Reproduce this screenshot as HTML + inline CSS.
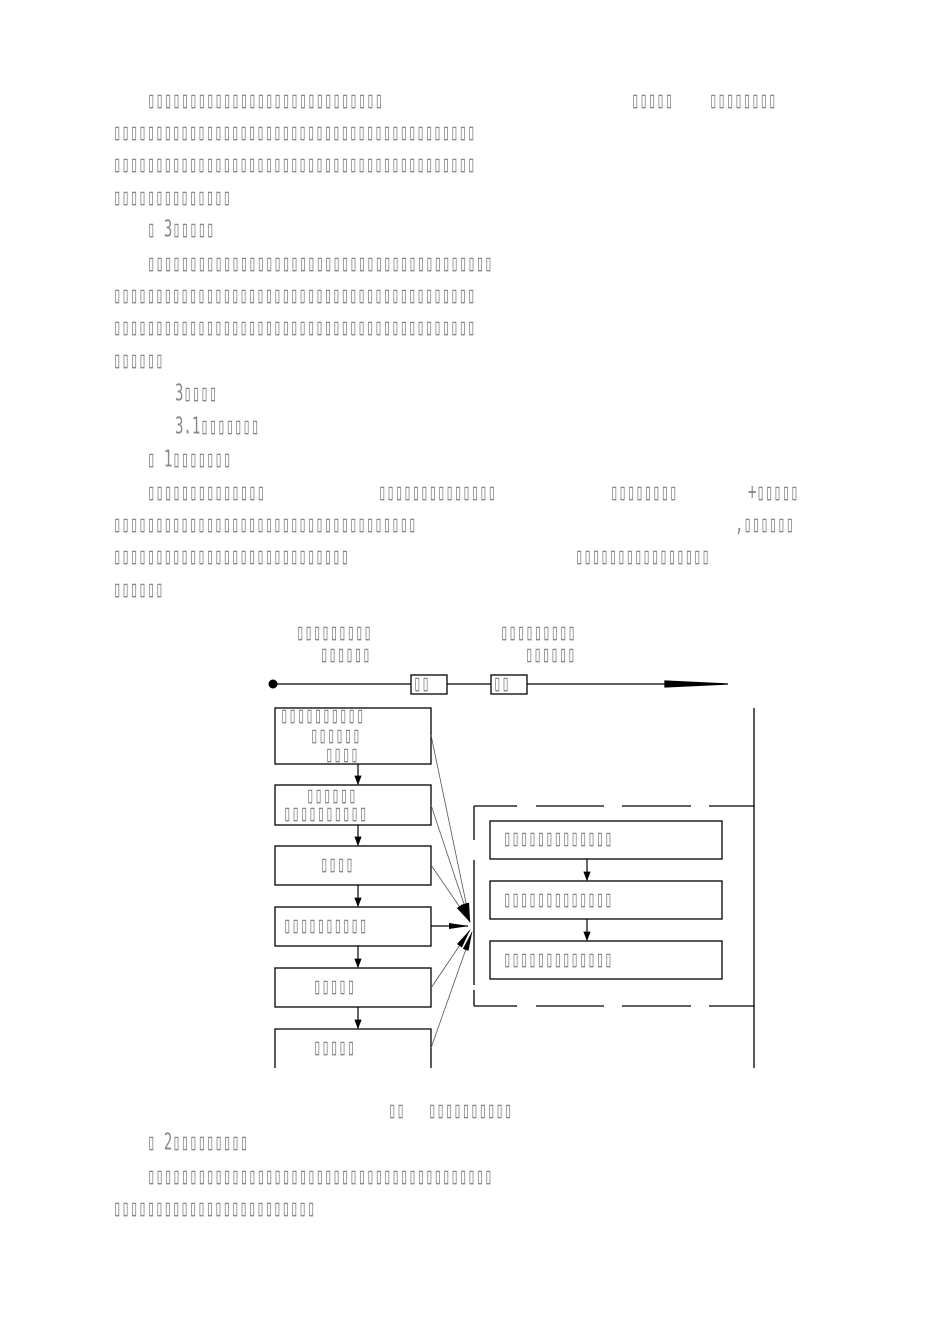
<!DOCTYPE html>
<html><head><meta charset="utf-8"><style>
body{margin:0;background:#fff;width:950px;height:1344px;position:relative;overflow:hidden}
.t{position:absolute;z-index:2;font-family:"DejaVu Sans Mono",monospace;font-size:14px;line-height:14px;color:#888;white-space:pre;transform:scale(1,1.65);transform-origin:0 50%}
svg{position:absolute;left:0;top:0;z-index:1}
</style></head><body>
<svg width="950" height="1344">
<defs><marker id="a" markerWidth="8" markerHeight="8" refX="7" refY="4" orient="auto"><path d="M0,1 L8,4 L0,7Z" fill="#000"/></marker>
<marker id="b" markerWidth="20" markerHeight="8" refX="19" refY="4" orient="auto" markerUnits="userSpaceOnUse"><path d="M0,1 L20,4 L0,7Z" fill="#000"/></marker></defs>
<g stroke="#000" fill="none" stroke-width="1.3">
<line x1="273" y1="684" x2="700" y2="684"/>
<path d="M665,681 L728,684 L665,687Z" fill="#000"/>
<rect x="411" y="675" width="36" height="19" fill="#fff"/>
<rect x="491" y="675" width="36" height="19" fill="#fff"/>
<rect x="275" y="708" width="156" height="56"/>
<rect x="275" y="785" width="156" height="40"/>
<rect x="275" y="846" width="156" height="39"/>
<rect x="275" y="907" width="156" height="39"/>
<rect x="275" y="968" width="156" height="39"/>
<path d="M275,1068 V1029 H431 V1068"/>
<line x1="754" y1="708" x2="754" y2="1068"/>
<rect x="490" y="821" width="232" height="38"/>
<rect x="490" y="881" width="232" height="38"/>
<rect x="490" y="941" width="232" height="38"/>
<path d="M474,806 H517 M536,806 H604 M622,806 H691 M709,806 H754 M474,1006 H517 M536,1006 H604 M622,1006 H691 M709,1006 H754 M474,806 V840 M474,860 V985 M474,990 V1006" />
</g>
<circle cx="273" cy="684" r="4.5" fill="#000"/>
<g stroke="#000" stroke-width="1.2" marker-end="url(#a)">
<line x1="358" y1="764" x2="358" y2="784"/><line x1="358" y1="825" x2="358" y2="845"/>
<line x1="358" y1="885" x2="358" y2="906"/><line x1="358" y1="946" x2="358" y2="967"/>
<line x1="358" y1="1007" x2="358" y2="1028"/>
<line x1="587" y1="859" x2="587" y2="880"/><line x1="587" y1="919" x2="587" y2="940"/>
</g>
<g stroke="#555" stroke-width="0.8" marker-end="url(#b)">
<line x1="431" y1="735" x2="470" y2="922"/>
<line x1="431" y1="805" x2="470" y2="922"/>
<line x1="431" y1="865" x2="470" y2="922"/>
<line x1="431" y1="926" x2="468" y2="926" stroke="#000" stroke-width="1.2"/>
<line x1="431" y1="988" x2="470" y2="930"/>
<line x1="431" y1="1048" x2="472" y2="932"/>
</g>
</svg>
<script>
function L(x,y,s){var d=document.createElement('div');d.className='t';d.style.left=x+'px';d.style.top=(y-8)+'px';
s=s.replace(/(\d+)#/g,function(m,n){return '\u25AF'.repeat(+n)});d.textContent=s;document.body.appendChild(d);}
L(147,102,'28#');L(631,102,'5#');L(709,102,'8#');
L(113,134,'43#');L(113,166,'43#');L(113,199,'14#');
L(147,231,'\u25AF 3\u25AF\u25AF\u25AF\u25AF\u25AF');
L(147,265,'41#');L(113,297,'43#');L(113,329,'43#');L(113,362,'6#');
L(175,395,'3\u25AF\u25AF\u25AF\u25AF');L(175,428,'3.1\u25AF\u25AF\u25AF\u25AF\u25AF\u25AF\u25AF');
L(147,461,'\u25AF 1\u25AF\u25AF\u25AF\u25AF\u25AF\u25AF\u25AF');
L(147,494,'14#');L(378,494,'14#');L(610,494,'8#');L(748,494,'+5#');
L(113,526,'36#');L(735,526,',6#');
L(113,558,'28#');L(575,558,'16#');L(113,591,'6#');
L(296,634,'9#');L(320,656,'6#');L(500,634,'9#');L(525,656,'6#');
L(413,685,'2#');L(493,685,'2#');
L(280,717,'10#');L(310,737,'6#');L(325,756,'4#');
L(306,797,'6#');L(283,815,'10#');L(320,866,'4#');L(283,927,'10#');
L(313,988,'5#');L(313,1049,'5#');
L(503,840,'13#');L(503,901,'13#');L(503,961,'13#');
L(388,1112,'2#');L(428,1112,'10#');
L(147,1144,'\u25AF 2\u25AF\u25AF\u25AF\u25AF\u25AF\u25AF\u25AF\u25AF\u25AF');
L(147,1178,'41#');L(113,1210,'24#');
</script>
</body></html>
